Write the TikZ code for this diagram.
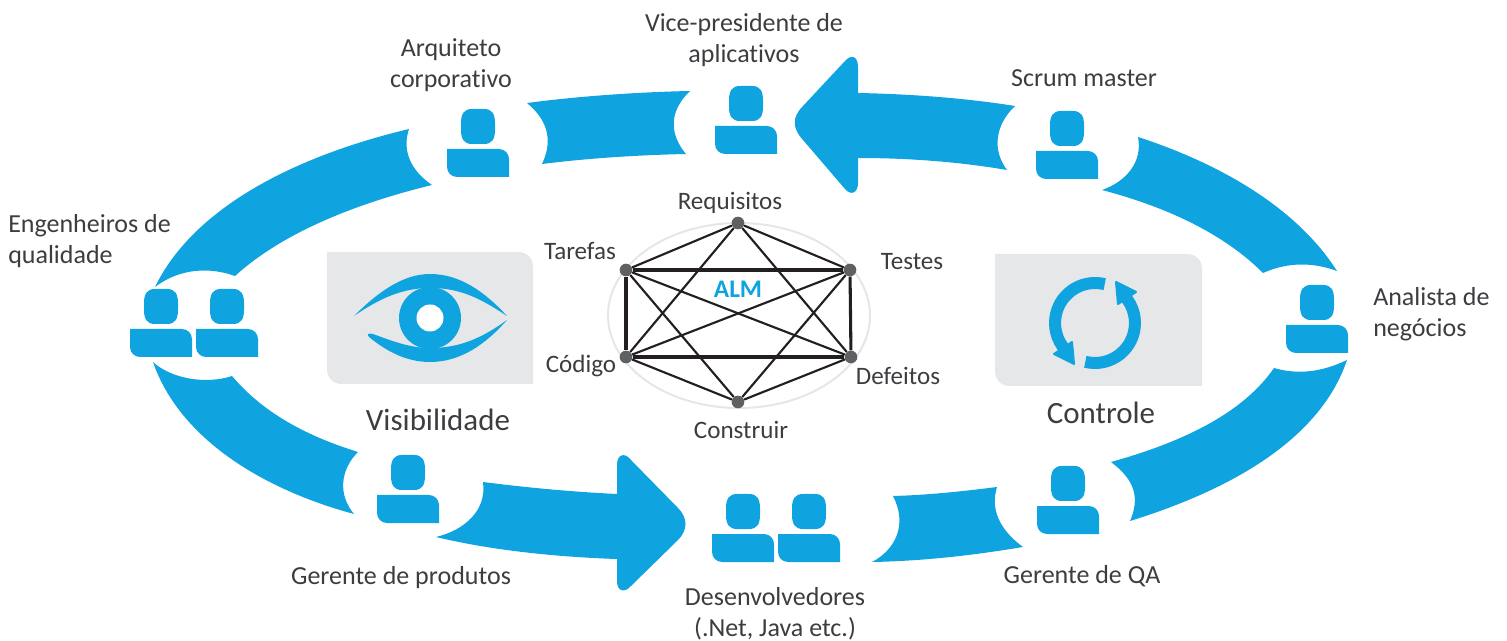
\documentclass[tikz,border=0pt]{standalone}
\usepackage{fontspec}
\setmainfont{Carlito}[Ligatures=CommonOff]
\definecolor{hpblue}{HTML}{0FA3DF}
\definecolor{panelgrey}{HTML}{E6E7E8}
\definecolor{ringgrey}{HTML}{E6E6E6}
\definecolor{dotgrey}{HTML}{5E6064}
\definecolor{edgedark}{HTML}{231F20}
\definecolor{labelgrey}{HTML}{3C3D40}
\newcommand{\persona}[3]{%
  \begin{scope}[shift={(#2,#3)}]
    \coordinate (#1) at (31,34);
    \fill[hpblue] (25,0) -- (37,0) .. controls (45,0) and (48,5) .. (48,14) -- (48,21) .. controls (48,30) and (45,35) .. (37,35) -- (25,35) .. controls (17,35) and (14,30) .. (14,21) -- (14,14) .. controls (14,5) and (17,0) .. (25,0) -- cycle;
    \fill[hpblue] (0,40) -- (52,40) .. controls (57.5,40) and (62,44.5) .. (62,50) -- (62,68) -- (10,68) .. controls (4.5,68) and (0,63.5) .. (0,58) -- cycle;
  \end{scope}}
\tikzset{
  band/.style={fill=hpblue,draw=none},
  panel/.style={fill=panelgrey,draw=none},
  lbl/.style={text=labelgrey,font=\fontsize{19.5}{23.2}\selectfont,align=center,inner sep=0pt},
  lblleft/.style={lbl,align=left,anchor=west},
  small/.style={text=labelgrey,font=\fontsize{18.8}{21}\selectfont,inner sep=0pt},
  big/.style={text=labelgrey,font=\fontsize{23.2}{28}\selectfont,inner sep=0pt},
  dot/.style={circle,fill=dotgrey,draw=none,minimum size=9.5pt,inner sep=0pt},
  edge/.style={draw=edgedark,line width=1.6pt},
  edgeheavy/.style={draw=edgedark,line width=2.3pt}
}
\begin{document}
\begin{tikzpicture}[x=0.75pt,y=-0.75pt]
\useasboundingbox (0,0) rectangle (1507,641);
% bands
\fill[band] (527,103) .. controls (580,96) and (640,92) .. (690,91) .. controls (668,112) and (670,135) .. (686,154) .. controls (640,155) and (590,158) .. (542,164) .. controls (552,143) and (550,122) .. (527,103) -- cycle;
\fill[band] (858,93) .. controls (910,94) and (965,98) .. (1015,106) .. controls (995,125) and (992,150) .. (1007,170) .. controls (960,162) and (910,158) .. (858,158) -- (858,183) .. controls (858,193) and (851,196) .. (845,189) -- (803,140) .. controls (792,128) and (792,117) .. (803,106) -- (845,61) .. controls (851,54) and (858,56) .. (858,67) -- cycle;
\fill[band] (1138,137) .. controls (1215,162) and (1295,205) .. (1337,271) .. controls (1315,263) and (1290,261) .. (1263,273) .. controls (1225,235) and (1170,208) .. (1102,190) .. controls (1125,182) and (1143,163) .. (1138,137) -- cycle;
\fill[band] (1274,368) .. controls (1298,375) and (1322,372) .. (1347,360) .. controls (1320,440) and (1230,490) .. (1130,521) .. controls (1140,498) and (1135,480) .. (1111,462) .. controls (1190,440) and (1245,410) .. (1274,368) -- cycle;
\fill[band] (893,496) .. controls (930,495) and (965,491) .. (997,487) .. controls (990,510) and (1000,530) .. (1023,547) .. controls (975,555) and (925,561) .. (872,562) .. controls (895,550) and (908,525) .. (893,496) -- cycle;
\fill[band] (483,482) .. controls (530,488) and (575,492) .. (617,494) -- (617,465) .. controls (617,454) and (625,452) .. (631,460) -- (678,508) .. controls (688,518) and (688,530) .. (678,540) -- (631,586) .. controls (625,593) and (617,592) .. (617,581) -- (617,559) .. controls (555,557) and (490,550) .. (436,537) .. controls (465,530) and (487,510) .. (483,482) -- cycle;
\fill[band] (153,362) .. controls (170,378) and (205,385) .. (232,376) .. controls (265,415) and (310,437) .. (358,452) .. controls (340,470) and (338,495) .. (354,514) .. controls (265,490) and (180,440) .. (153,362) -- cycle;
\fill[band] (155,287) .. controls (180,268) and (210,267) .. (235,276) .. controls (280,235) and (350,205) .. (432,185) .. controls (410,170) and (402,150) .. (409,129) .. controls (300,155) and (195,205) .. (155,287) -- cycle;
% persons
\persona{arq}{447}{109}
\persona{vp}{715}{86}
\persona{scrum}{1036}{111}
\persona{analista}{1286}{285}
\persona{qa}{1037}{466}
\persona{enga}{130}{289}
\persona{engb}{196}{289}
\persona{gerente}{377}{455}
\persona{deva}{712}{494}
\persona{devb}{778}{494}
% visibility panel
\fill[panel] (327,252) -- (518,252) .. controls (527,252) and (533,258) .. (533,267) -- (533,384) -- (342,384) .. controls (333,384) and (327,378) .. (327,369) -- cycle;
\fill[hpblue] (354,316) .. controls (378,292) and (403,274) .. (430,274) .. controls (460,274) and (485,292) .. (507,316) .. controls (480,298) and (460,288) .. (430,288) .. controls (403,288) and (380,298) .. (354,316) -- cycle;
\fill[hpblue] (507,320) .. controls (485,345) and (460,362) .. (430,362) .. controls (405,362) and (385,350) .. (369,337) .. controls (366,334) and (369,333) .. (373,334) .. controls (392,341) and (410,348) .. (430,348) .. controls (460,348) and (482,338) .. (507,320) -- cycle;
\fill[hpblue] (430,318) circle[radius=31];
\fill[white] (430,318) circle[radius=13.5];
% control panel
\fill[panel] (995,254) -- (1187,254) .. controls (1196,254) and (1202,260) .. (1202,269) -- (1202,386) -- (1010,386) .. controls (1001,386) and (995,380) .. (995,371) -- cycle;
\draw[hpblue,line width=9pt] (1104.7,284.2) arc[start angle=-76,end angle=-222,radius=40];
\draw[hpblue,line width=9pt] (1085.3,361.8) arc[start angle=-256,end angle=-402,radius=40];
\fill[hpblue,draw=hpblue,line width=1.5pt,line join=round] (1054,354) -- (1074,364) -- (1072,342) -- cycle;
\fill[hpblue,draw=hpblue,line width=1.5pt,line join=round] (1136,292) -- (1116,282) -- (1118,304) -- cycle;
% hexagon
\draw[ringgrey,line width=1.5pt] (739,315.5) ellipse[x radius=131,y radius=92.5];
\node[dot] (req) at (738,223) {};
\node[dot] (tes) at (850,270) {};
\node[dot] (def) at (851,357) {};
\node[dot] (con) at (738,402) {};
\node[dot] (cod) at (626,357) {};
\node[dot] (tar) at (626,270) {};
\draw[edge] (req) -- (tes);
\draw[edge] (req) -- (tar);
\draw[edge] (req) -- (cod);
\draw[edge] (req) -- (def);
\draw[edgeheavy] (tar) -- (tes);
\draw[edgeheavy] (tar) -- (cod);
\draw[edge] (tar) -- (def);
\draw[edge] (tar) -- (con);
\draw[edgeheavy] (tes) -- (def);
\draw[edge] (tes) -- (cod);
\draw[edge] (tes) -- (con);
\draw[edgeheavy] (cod) -- (def);
\draw[edge] (cod) -- (con);
\draw[edge] (def) -- (con);
\node[text=hpblue,font=\fontsize{19}{20}\selectfont\bfseries,inner sep=0pt] (alm) at (738,289) {ALM};
% labels
\node[lbl] (lvp) at (744,40) {Vice-presidente de\\aplicativos};
\node[lbl] (larq) at (451,65) {Arquiteto\\corporativo};
\node[lbl] (lscrum) at (1084,78) {Scrum master};
\node[lblleft] (leng) at (8,241) {Engenheiros de\\qualidade};
\node[lblleft] (lana) at (1373,314) {Analista de\\negócios};
\node[lbl] (lger) at (401,578) {Gerente de produtos};
\node[lbl] (ldev) at (775,614) {Desenvolvedores\\(.Net, Java etc.)};
\node[lbl] (lqa) at (1082,576) {Gerente de QA};
\node[big] (lvis) at (438,420) {Visibilidade};
\node[big] (lctl) at (1101,413) {Controle};
\node[small] (lreq) at (730,203) {Requisitos};
\node[small] (ltar) at (580,251) {Tarefas};
\node[small] (ltes) at (912,262) {Testes};
\node[small] (lcod) at (581,366) {Código};
\node[small] (ldef) at (898,376) {Defeitos};
\node[small] (lcon) at (741,430) {Construir};
\end{tikzpicture}
\end{document}
